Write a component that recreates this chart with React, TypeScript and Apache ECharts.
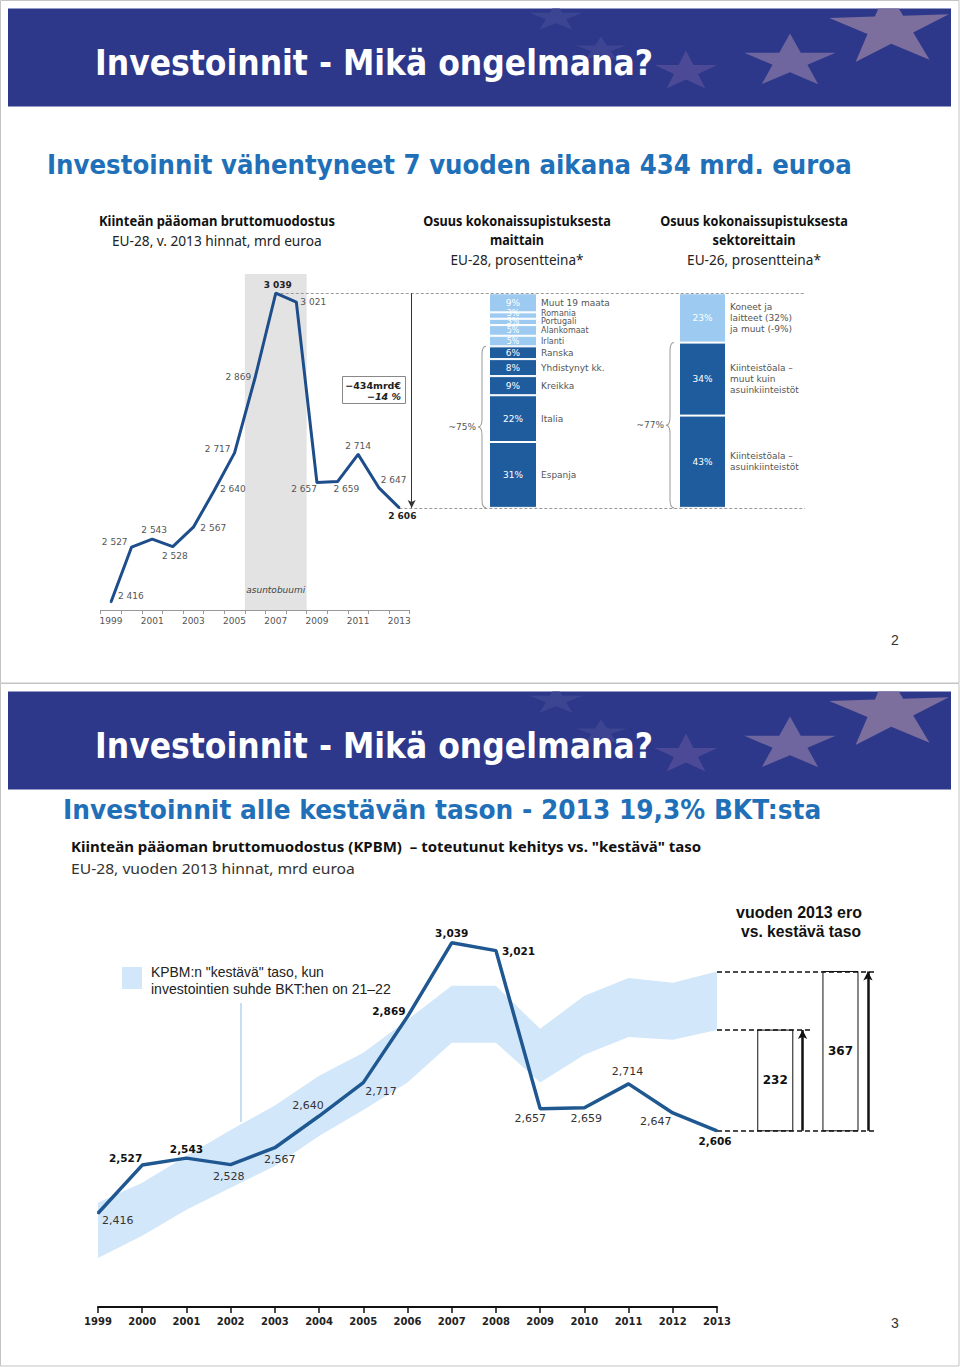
import React, { useEffect, useRef } from "react";
import * as echarts from "echarts";

// ---------------- DATA ----------------
const years = ["1999", "2000", "2001", "2002", "2003", "2004", "2005", "2006", "2007", "2008", "2009", "2010", "2011", "2012", "2013"];
const gfcf = [2416, 2527, 2543, 2528, 2567, 2640, 2717, 2869, 3039, 3021, 2657, 2659, 2714, 2647, 2606];
const boomRange = [2005.5, 2008.5];
const boomShadeTop = 3078;

const countryNames = ["Espanja", "Italia", "Kreikka", "Yhdistynyt kk.", "Ranska", "Irlanti", "Alankomaat", "Portugali", "Romania", "Muut 19 maata"];
const countryShares = [31, 22, 9, 8, 6, 5, 5, 3, 3, 9];
const countryMajorCount = 5;
const sectorNames = ["Kiinteistöala –\nasuinkiinteistöt", "Kiinteistöala –\nmuut kuin\nasuinkiinteistöt", "Koneet ja\nlaitteet (32%)\nja muut (-9%)"];
const sectorShares = [43, 34, 23];
const sectorMajorCount = 2;
const bracketLabels = ["~75%", "~77%"];

const sustainableLow = [2313, 2364, 2424, 2475, 2525, 2594, 2654, 2717, 2809, 2809, 2717, 2781, 2822, 2816, 2838];
const sustainableHigh = [2440, 2486, 2548, 2608, 2664, 2733, 2786, 2862, 2940, 2940, 2841, 2917, 2958, 2947, 2973];
const gap2013 = [232, 367];

// ---------------- STYLE / LAYOUT ----------------
const FONT_UI = '"DejaVu Sans", Verdana, sans-serif';
const FONT_CAL = '"Noto Sans", "Open Sans", sans-serif';
const FONT_ARIAL = '"Liberation Sans", Arial, sans-serif';
const DARK = "#1f5c9e";
const LIGHT = "#9dcaf0";
const BAND = "#d3e7fa";
const BANNER = "#2d388a";
const SUB = "#1f70b8";

const TOP = { left: 100.7, top: 263, width: 308.9, height: 347, min: 2400, max: 3100 };
const WIDE_RIGHT = 805;
const BOT = { left: 98, top: 899, width: 619, height: 408, min: 2200, max: 3140 };
const RIGHT = { left: 717, width: 163 };

const topLabelPos = ["right", "left", "top", "bottom", "right", "right", "left", "left", "top", "right", "left", "right", "top", "right", "bottom"];
const topLabelOff = [[3, -6], [0, -5], [2, -1], [2, 1], [3, 1], [2, -2], [0, -4], [0, -1], [2, 0], [0, 0], [4, 6], [-8, 7], [0, 0], [-2, -8], [3, 0]];
const topBold = [0, 0, 0, 0, 0, 0, 0, 0, 1, 0, 0, 0, 0, 0, 1];
const botLabelPos = ["right", "left", "top", "bottom", "bottom", "top", "right", "left", "top", "right", "bottom", "bottom", "top", "bottom", "bottom"];
const botLabelOff = [[0, 7], [4, -7], [0, 0], [-2, 2], [5, 2], [-11, -1], [-2, 9], [2, -6], [0, 0], [2, 0], [-10, 0], [2, 1], [-1, -3], [-17, -1], [-2, 1]];
const botBold = [0, 1, 1, 0, 0, 0, 0, 1, 1, 1, 0, 0, 0, 0, 1];
const countryLabelOff = [0, 0, 0, 0, 0, 0, 0.5, 0, -2, 0];
const boxSlots = [[25, 46.5], [65, 86.5]];
const arrowSlots = [52.5, 92.6];
const dashEnds = [98, 57.5, 98];

const fmtSpace = (v: number) => String(v).replace(/\B(?=(\d{3})+(?!\d))/g, " ");
const fmtComma = (v: number) => String(v).replace(/\B(?=(\d{3})+(?!\d))/g, ",");

function measure(text: string, font: string) {
  const ctx = document.createElement("canvas").getContext("2d") as CanvasRenderingContext2D;
  ctx.font = font;
  return ctx.measureText(text).width || 1;
}

function txt(text: string, x: number, y: number, font: string, fill: string, align = "left", z = 10) {
  return {
    type: "text", x, y, z, silent: true,
    style: { text, font, fill, textAlign: align, textVerticalAlign: "middle", align, verticalAlign: "middle" },
  };
}

function fit(text: string, x: number, y: number, font: string, width: number, fill: string, align = "left") {
  const el: any = txt(text, x, y, font, fill, align);
  el.scaleX = width / measure(text, font);
  return el;
}

// Sutherland–Hodgman clip of a polygon to an axis-aligned box
function clipPoly(pts: number[][], x0: number, y0: number, x1: number, y1: number) {
  const edges: [(p: number[]) => boolean, (a: number[], b: number[]) => number[]][] = [
    [(p) => p[0] >= x0, (a, b) => { const t = (x0 - a[0]) / (b[0] - a[0]); return [x0, a[1] + t * (b[1] - a[1])]; }],
    [(p) => p[0] <= x1, (a, b) => { const t = (x1 - a[0]) / (b[0] - a[0]); return [x1, a[1] + t * (b[1] - a[1])]; }],
    [(p) => p[1] >= y0, (a, b) => { const t = (y0 - a[1]) / (b[1] - a[1]); return [a[0] + t * (b[0] - a[0]), y0]; }],
    [(p) => p[1] <= y1, (a, b) => { const t = (y1 - a[1]) / (b[1] - a[1]); return [a[0] + t * (b[0] - a[0]), y1]; }],
  ];
  let out = pts;
  for (const [inside, cut] of edges) {
    const inp = out;
    out = [];
    for (let i = 0; i < inp.length; i++) {
      const cur = inp[i];
      const prev = inp[(i + inp.length - 1) % inp.length];
      if (inside(cur)) {
        if (!inside(prev)) out.push(cut(prev, cur));
        out.push(cur);
      } else if (inside(prev)) out.push(cut(prev, cur));
    }
    if (!out.length) break;
  }
  return out;
}

function star(cx: number, cy: number, rx: number, ry: number, fill: string, box: number[], rot = 0) {
  const pts: number[][] = [];
  for (let k = 0; k < 10; k++) {
    const r = k % 2 === 0 ? 1 : 0.382;
    const a = -Math.PI / 2 + (k * Math.PI) / 5 + rot;
    pts.push([cx + rx * r * Math.cos(a), cy + ry * r * Math.sin(a)]);
  }
  return { type: "polygon", z: 1, silent: true, shape: { points: clipPoly(pts, box[0], box[1], box[2], box[3]) }, style: { fill } };
}

function slideFrame(y0: number, title: string, subtitle: string, subX: number, subY: number, subW: number, pageNo: string) {
  const bTop = y0 + 8.5;
  const box = [8, bTop, 951, bTop + 98];
  const els: any[] = [
    { type: "rect", z: 0, silent: true, shape: { x: 0.5, y: y0 + 0.5, width: 958.5, height: 682.5 }, style: { fill: "#fff", stroke: "#c4c4c4", lineWidth: 1 } },
    { type: "rect", z: 0, silent: true, shape: { x: 8, y: bTop, width: 943, height: 98 }, style: { fill: BANNER } },
    star(556, bTop + 9, 28, 15, "#3b4591", box),
    star(601, bTop + 41, 27, 13, "#3d4592", box),
    star(686, bTop + 63, 33, 21, "#4c4a96", box),
    star(790, bTop + 53, 48, 28, "#6f669f", box),
    star(890, bTop + 20, 63, 40, "#7c6e9d", box, -0.05),
    fit(title, 95, bTop + 54, `bold 36px ${FONT_UI}`, 558, "#ffffff"),
    fit(subtitle, subX, subY, `bold 26px ${FONT_UI}`, subW, SUB),
    txt(pageNo, 895, y0 + 640, `14px ${FONT_ARIAL}`, "#333", "center"),
  ];
  return els;
}

function buildOption() {
  const perYear = TOP.width / years.length;
  const wideMax = 1998.5 + (WIDE_RIGHT - TOP.left) / perYear;
  const yTop = (v: number) => TOP.top + TOP.height * (1 - (v - TOP.min) / (TOP.max - TOP.min));
  const peak = Math.max(...gfcf);
  const last = gfcf[gfcf.length - 1];
  const peakIdx = gfcf.indexOf(peak);
  const barTop = yTop(peak);
  const barH = yTop(last) - barTop;
  const countryTotal = countryShares.reduce((a, b) => a + b, 0);

  const topData = gfcf.map((v, i) => ({
    value: v,
    label: {
      position: topLabelPos[i], offset: topLabelOff[i],
      fontWeight: topBold[i] ? "bold" : "normal", color: topBold[i] ? "#222" : "#555",
    },
  }));
  const botData = gfcf.map((v, i) => ({
    value: v,
    label: {
      position: botLabelPos[i], offset: botLabelOff[i],
      fontWeight: botBold[i] ? "bold" : "normal", fontSize: botBold[i] ? 10.5 : 11,
      color: botBold[i] ? "#111" : "#333",
    },
  }));

  const stackBars = (names: string[], shares: number[], major: number, axis: number, stackId: string, offs: number[]) =>
    names.flatMap((name, i) => {
      const small = shares[i] <= 5 && i >= major;
      const fs = small ? 8 : 9;
      return [
        {
          type: "bar", name, xAxisIndex: axis, yAxisIndex: axis, stack: stackId, barWidth: "100%", barGap: "-100%", silent: true, z: 3,
          data: [shares[i]],
          itemStyle: { color: i < major ? DARK : LIGHT, borderColor: "#fff", borderWidth: 1 },
          label: { show: true, position: "inside", offset: [0, offs[i] || 0], formatter: `${shares[i]}%`, color: "#fff", fontSize: fs, fontFamily: FONT_UI },
        },
        {
          type: "bar", name: name + " ", xAxisIndex: axis, yAxisIndex: axis, stack: stackId + "n", barWidth: "100%", barGap: "-100%", silent: true, z: 4,
          data: [shares[i]],
          itemStyle: { color: "transparent" },
          label: { show: true, position: "right", distance: 4, offset: [0, offs[i] || 0], formatter: name, color: "#555", fontSize: fs, lineHeight: 11, fontFamily: FONT_UI },
        },
      ];
    });

  const base = last;
  const boxData = gap2013.map((g, i) => [boxSlots[i][0], boxSlots[i][1], base, base + g, g]);
  const levels = [base + gap2013[1], base + gap2013[0], base];

  return {
    animation: false,
    grid: [
      { left: TOP.left, top: TOP.top, width: TOP.width, height: TOP.height },
      { left: TOP.left, top: TOP.top, width: WIDE_RIGHT - TOP.left, height: TOP.height },
      { left: 489, top: barTop, width: 48, height: barH },
      { left: 679, top: barTop, width: 47, height: barH },
      { left: BOT.left, top: BOT.top, width: BOT.width, height: BOT.height },
      { left: RIGHT.left, top: BOT.top, width: RIGHT.width, height: BOT.height },
    ],
    xAxis: [
      {
        type: "category", gridIndex: 0, data: years, boundaryGap: true,
        axisLine: { lineStyle: { color: "#999", width: 1 } },
        axisTick: { show: true, interval: 0, length: 4, lineStyle: { color: "#999" } },
        axisLabel: { interval: 1, color: "#555", fontSize: 9, fontFamily: FONT_UI, margin: 6 },
        splitLine: { show: false },
      },
      { type: "value", gridIndex: 1, min: 1998.5, max: wideMax, show: false },
      { type: "category", gridIndex: 2, data: ["maittain"], show: false },
      { type: "category", gridIndex: 3, data: ["sektoreittain"], show: false },
      {
        type: "category", gridIndex: 4, data: years, boundaryGap: false,
        axisLine: { lineStyle: { color: "#111", width: 2 } },
        axisTick: { show: true, interval: 0, length: 6, lineStyle: { color: "#111", width: 1.5 } },
        axisLabel: { interval: 0, color: "#222", fontSize: 10, fontWeight: "bold", fontFamily: FONT_UI, margin: 9 },
        splitLine: { show: false },
      },
      { type: "value", gridIndex: 5, min: 0, max: 100, show: false },
    ],
    yAxis: [
      { type: "value", gridIndex: 0, min: TOP.min, max: TOP.max, show: false },
      { type: "value", gridIndex: 1, min: TOP.min, max: TOP.max, show: false },
      { type: "value", gridIndex: 2, min: 0, max: countryTotal, show: false },
      { type: "value", gridIndex: 3, min: 0, max: 100, show: false },
      { type: "value", gridIndex: 4, min: BOT.min, max: BOT.max, show: false },
      { type: "value", gridIndex: 5, min: BOT.min, max: BOT.max, show: false },
    ],
    series: [
      {
        type: "line", xAxisIndex: 1, yAxisIndex: 1, silent: true, z: 1, symbol: "none",
        data: [[boomRange[0], TOP.min]], lineStyle: { width: 0 },
        markArea: {
          silent: true, itemStyle: { color: "#e3e3e3" },
          label: { show: true, position: "insideBottom", distance: 16, formatter: "asuntobuumi", fontStyle: "italic", color: "#444", fontSize: 9, fontFamily: FONT_UI },
          data: [[{ xAxis: boomRange[0], yAxis: TOP.min }, { xAxis: boomRange[1], yAxis: boomShadeTop }]],
        },
        markLine: {
          silent: true, symbol: ["none", "none"], label: { show: false },
          lineStyle: { color: "#9a9a9a", type: [3, 2], width: 1 },
          data: [
            [{ coord: [1999 + peakIdx, peak] }, { coord: [wideMax, peak] }],
            [{ coord: [1999 + gfcf.length - 1, last] }, { coord: [wideMax, last] }],
          ],
        },
      },
      {
        type: "line", xAxisIndex: 1, yAxisIndex: 1, silent: true, z: 6, symbol: "none",
        data: [[boomRange[0], TOP.min]], lineStyle: { width: 0 },
        markLine: {
          silent: true, symbol: ["none", "arrow"], symbolSize: [6, 8], label: { show: false },
          lineStyle: { color: "#333", type: "solid", width: 1 },
          data: [[{ coord: [2013.6, peak] }, { coord: [2013.6, last] }]],
        },
      },
      {
        type: "line", xAxisIndex: 0, yAxisIndex: 0, data: topData, z: 5, silent: true,
        symbol: "circle", symbolSize: 2, showSymbol: true, itemStyle: { color: "#1d4e8b" },
        lineStyle: { color: "#1d4e8b", width: 3 },
        label: { show: true, formatter: (p: any) => fmtSpace(p.value), fontSize: 9, fontFamily: FONT_UI, distance: 3 },
      },
      ...stackBars(countryNames, countryShares, countryMajorCount, 2, "c", countryLabelOff),
      ...stackBars(sectorNames, sectorShares, sectorMajorCount, 3, "s", []),
      {
        type: "line", xAxisIndex: 4, yAxisIndex: 4, stack: "band", data: sustainableLow, symbol: "none", silent: true, z: 2,
        lineStyle: { width: 0 },
      },
      {
        type: "line", xAxisIndex: 4, yAxisIndex: 4, stack: "band", data: sustainableHigh.map((h, i) => h - sustainableLow[i]),
        symbol: "none", silent: true, z: 2, lineStyle: { width: 0 }, areaStyle: { color: BAND, opacity: 1 },
      },
      {
        type: "line", xAxisIndex: 4, yAxisIndex: 4, data: botData, z: 5, silent: true,
        symbol: "circle", symbolSize: 2, showSymbol: true, itemStyle: { color: "#1f5891" },
        lineStyle: { color: "#1f5891", width: 3.5 },
        label: { show: true, formatter: (p: any) => fmtComma(p.value), fontFamily: FONT_UI, distance: 3 },
      },
      {
        type: "custom", xAxisIndex: 5, yAxisIndex: 5, data: boxData, silent: true, z: 3,
        encode: { x: [0, 1], y: [2, 3] },
        renderItem: (params: any, api: any) => {
          const p0 = api.coord([api.value(0), api.value(3)]);
          const p1 = api.coord([api.value(1), api.value(2)]);
          return {
            type: "group",
            children: [
              { type: "rect", shape: { x: p0[0], y: p0[1], width: p1[0] - p0[0], height: p1[1] - p0[1] }, style: { fill: "none", stroke: "#111", lineWidth: 1 } },
              {
                type: "text",
                style: {
                  text: String(api.value(4)), x: (p0[0] + p1[0]) / 2, y: (p0[1] + p1[1]) / 2,
                  textAlign: "center", textVerticalAlign: "middle", align: "center", verticalAlign: "middle",
                  font: `bold 12px ${FONT_UI}`, fill: "#111",
                },
              },
            ],
          };
        },
      },
      {
        type: "line", xAxisIndex: 5, yAxisIndex: 5, silent: true, z: 4, symbol: "none",
        data: [[0, base]], lineStyle: { width: 0 },
        markLine: {
          silent: true, symbol: ["none", "none"], label: { show: false },
          lineStyle: { color: "#111", type: [5, 3], width: 1.6 },
          data: levels.map((lv, i) => [{ coord: [0, lv] }, { coord: [dashEnds[i], lv] }]),
        },
      },
      {
        type: "line", xAxisIndex: 5, yAxisIndex: 5, silent: true, z: 4, symbol: "none",
        data: [[0, base]], lineStyle: { width: 0 },
        markLine: {
          silent: true, symbol: ["none", "arrow"], symbolSize: [7, 9], label: { show: false },
          lineStyle: { color: "#111", type: "solid", width: 2.5 },
          data: gap2013.map((g, i) => [{ coord: [arrowSlots[i], base] }, { coord: [arrowSlots[i], base + g] }]),
        },
      },
    ],
  };
}

function buildGraphics(chart: any) {
  const els: any[] = [
    ...slideFrame(0, "Investoinnit - Mikä ongelmana?", "Investoinnit vähentyneet 7 vuoden aikana 434 mrd. euroa", 47, 165, 805, "2"),
    ...slideFrame(683, "Investoinnit - Mikä ongelmana?", "Investoinnit alle kestävän tason - 2013 19,3% BKT:sta", 63, 810, 759, "3"),
  ];
  els.push(fit("Kiinteän pääoman bruttomuodostus", 99, 221, `bold 14px ${FONT_CAL}`, 236, "#111"));
  els.push(fit("EU-28, v. 2013 hinnat, mrd euroa", 112, 240, `14px ${FONT_CAL}`, 210, "#222"));
  els.push(fit("Osuus kokonaissupistuksesta", 517, 221, `bold 14px ${FONT_CAL}`, 188, "#111", "center"));
  els.push(fit("maittain", 517, 240, `bold 14px ${FONT_CAL}`, 54, "#111", "center"));
  els.push(fit("EU-28, prosentteina*", 517, 259, `14px ${FONT_CAL}`, 133, "#222", "center"));
  els.push(fit("Osuus kokonaissupistuksesta", 754, 221, `bold 14px ${FONT_CAL}`, 188, "#111", "center"));
  els.push(fit("sektoreittain", 754, 240, `bold 14px ${FONT_CAL}`, 83, "#111", "center"));
  els.push(fit("EU-26, prosentteina*", 754, 259, `14px ${FONT_CAL}`, 134, "#222", "center"));

  els.push({ type: "rect", z: 10, silent: true, shape: { x: 342.5, y: 376.5, width: 63, height: 27 }, style: { fill: "#fff", stroke: "#888", lineWidth: 1 } });
  els.push(txt("−434mrd€", 401, 385, `bold 9.5px ${FONT_UI}`, "#222", "right", 11));
  els.push(txt("−14 %", 401, 396, `italic bold 9.5px ${FONT_UI}`, "#222", "right", 11));

  const majC = countryShares.slice(0, countryMajorCount).reduce((a, b) => a + b, 0);
  const majS = sectorShares.slice(0, sectorMajorCount).reduce((a, b) => a + b, 0);
  const cTop = chart.convertToPixel({ yAxisIndex: 2 }, majC);
  const cBot = chart.convertToPixel({ yAxisIndex: 2 }, 0);
  const sTop = chart.convertToPixel({ yAxisIndex: 3 }, majS);
  const sBot = chart.convertToPixel({ yAxisIndex: 3 }, 0);
  const brace = (x: number, t: number, b: number) => ({
    type: "brace", z: 10, silent: true, x, y: t, scaleX: 1, scaleY: (b - t) / 160,
    style: { fill: "none", stroke: "#999", lineWidth: 1, strokeNoScale: true },
  });
  els.push(brace(478, cTop, cBot));
  els.push(brace(666, sTop, sBot));
  els.push(txt(bracketLabels[0], 476, (cTop + cBot) / 2, `9px ${FONT_UI}`, "#555", "right"));
  els.push(txt(bracketLabels[1], 664, (sTop + sBot) / 2, `9px ${FONT_UI}`, "#555", "right"));

  els.push(fit('Kiinteän pääoman bruttomuodostus (KPBM)  – toteutunut kehitys vs. "kestävä" taso', 71, 846, `bold 15px ${FONT_CAL}`, 631, "#111"));
  els.push(fit("EU-28, vuoden 2013 hinnat, mrd euroa", 71, 868, `15px ${FONT_CAL}`, 284, "#333"));
  els.push({ type: "rect", z: 10, silent: true, shape: { x: 122, y: 967, width: 20, height: 22 }, style: { fill: BAND } });
  els.push(fit('KPBM:n "kestävä" taso, kun', 151, 972, `14px ${FONT_ARIAL}`, 173, "#222"));
  els.push(fit("investointien suhde BKT:hen on 21–22", 151, 989, `14px ${FONT_ARIAL}`, 240, "#222"));
  els.push({ type: "line", z: 10, silent: true, shape: { x1: 241, y1: 1003, x2: 241, y2: 1122 }, style: { stroke: "#b5d3f0", lineWidth: 1.5 } });
  els.push(fit("vuoden 2013 ero", 799, 912, `bold 16px ${FONT_ARIAL}`, 126, "#111", "center"));
  els.push(fit("vs. kestävä taso", 801, 931, `bold 16px ${FONT_ARIAL}`, 120, "#111", "center"));
  return els;
}

export default function App() {
  const ref = useRef<HTMLDivElement>(null);
  useEffect(() => {
    if (!ref.current) return;
    try {
      echarts.graphic.registerShape(
        "brace",
        echarts.graphic.extendPath("M8 0 Q4 0 4 8 L4 72 Q4 80 0 80 Q4 80 4 88 L4 152 Q4 160 8 160", {}) as any
      );
    } catch (e) {
      /* already registered */
    }
    const chart = echarts.init(ref.current, null, { renderer: "svg" });
    chart.setOption(buildOption() as any);
    chart.setOption({ graphic: { elements: buildGraphics(chart) } } as any);
    return () => chart.dispose();
  }, []);
  return <div ref={ref} style={{ position: "absolute", left: 0, top: 0, width: 960, height: 1367, background: "#fff" }} />;
}
